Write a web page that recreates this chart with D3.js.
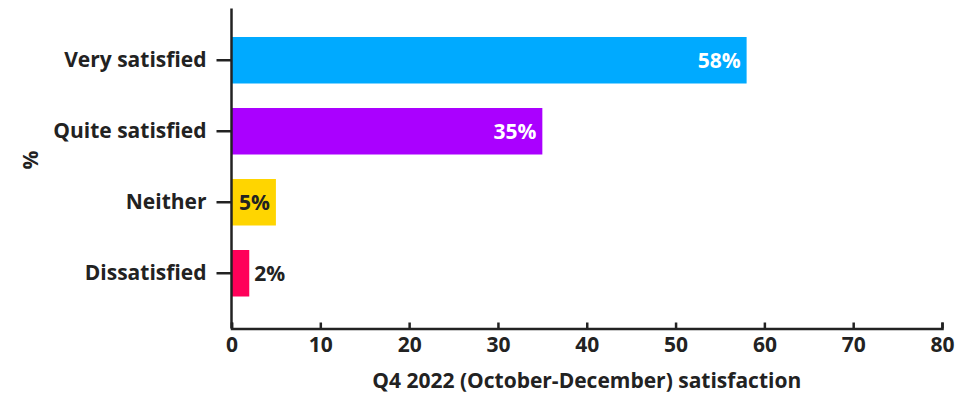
<!DOCTYPE html>
<html>
<head>
<meta charset="utf-8">
<script src="https://cdn.jsdelivr.net/npm/d3@7"></script>
<style>
  html, body { margin: 0; padding: 0; background: #fff; }
  svg { display: block; font-family: "Open Sans", "Lato", sans-serif; }
  .axis text { font-size: 21px; font-weight: 700; fill: #222; font-family: "Open Sans", "Lato", sans-serif; }
  .axis path, .axis line { stroke: #222; stroke-width: 2.5; }
</style>
</head>
<body>
<svg id="chart" width="973" height="393"></svg>
<script>
// Satisfaction responses, Q4 2022
const categories = ["Very satisfied", "Quite satisfied", "Neither", "Dissatisfied"];
const values = [58, 35, 5, 2];
const barColors = ["#00aaff", "#aa00ff", "#ffd500", "#ff0059"];
const labelColors = ["#ffffff", "#ffffff", "#222222", "#222222"];
const xTicks = [0, 10, 20, 30, 40, 50, 60, 70, 80];
const xTitle = "Q4 2022 (October-December) satisfaction";
const yTitle = "%";

const svg = d3.select("#chart");
const plotLeft = 231.5, plotRight = 942, plotTop = 8.5, plotBottom = 328.5;

const x = d3.scaleLinear().domain([0, 80]).range([plotLeft, plotRight]);
const y = d3.scaleBand().domain(categories).range([12.5, 321]).paddingInner(0.345).paddingOuter(0.345);

// bars
svg.append("g").selectAll("rect")
  .data(categories)
  .join("rect")
  .attr("x", x(0))
  .attr("y", d => y(d))
  .attr("width", (d, i) => x(values[i]) - x(0))
  .attr("height", y.bandwidth())
  .attr("fill", (d, i) => barColors[i]);

// value labels: inside the bar end when it fits, otherwise just past it
svg.append("g").selectAll("text")
  .data(categories)
  .join("text")
  .each(function(d, i) {
    const w = x(values[i]) - x(0);
    const inside = w > 30;
    d3.select(this)
      .attr("x", inside ? x(values[i]) - 6 : x(values[i]) + 5)
      .attr("text-anchor", inside ? "end" : "start")
      .attr("fill", labelColors[i]);
  })
  .attr("y", d => y(d) + y.bandwidth() / 2)
  .attr("dy", "0.35em")
  .style("font-size", "21px")
  .style("font-weight", 700)
  .text((d, i) => values[i] + "%");

// x axis with upward ticks
const xAxis = svg.append("g")
  .attr("class", "axis")
  .attr("transform", `translate(0,${plotBottom})`)
  .call(d3.axisBottom(x).tickValues(xTicks).tickSizeInner(-6).tickSizeOuter(-6).tickPadding(8));
xAxis.selectAll(".tick text").attr("dy", "0.71em").attr("y", 9);

// y axis
const yAxis = svg.append("g")
  .attr("class", "axis")
  .attr("transform", `translate(${plotLeft},0)`)
  .call(d3.axisLeft(y).tickSizeInner(15).tickSizeOuter(0).tickPadding(10));
yAxis.select(".domain").attr("d", `M0,${plotTop}V${plotBottom}`);

// axis titles
svg.append("text")
  .attr("x", (plotLeft + plotRight) / 2)
  .attr("y", 381)
  .attr("dy", "0.35em")
  .attr("text-anchor", "middle")
  .style("font-size", "21px")
  .style("font-weight", 700)
  .attr("fill", "#222")
  .text(xTitle);

svg.append("text")
  .attr("transform", "translate(31,160) rotate(-90)")
  .attr("dy", "0.35em")
  .attr("text-anchor", "middle")
  .style("font-size", "21px")
  .style("font-weight", 700)
  .attr("fill", "#222")
  .text(yTitle);
</script>
</body>
</html>
